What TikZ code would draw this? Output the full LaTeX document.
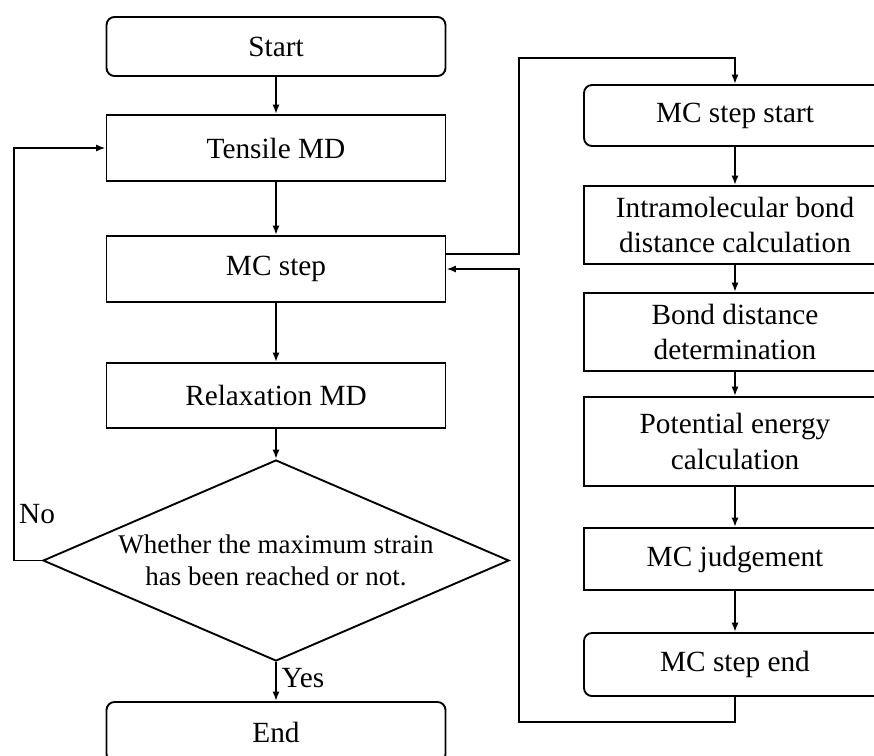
\documentclass[tikz,border=0pt]{standalone}
\usepackage{fontspec}
\setmainfont{Liberation Serif}
\usetikzlibrary{shapes.geometric,arrows.meta}
\begin{document}
\begin{tikzpicture}[x=0.03cm,y=-0.03cm]
	\tikzset{
		every node/.style={font=\fontsize{25}{30.6}\selectfont,align=center,inner sep=0pt},
		%
		box/.style={draw,line width=1.6pt,minimum width=339*0.03cm},
		% hop tron goc
		rbox/.style={box,rounded corners=0.24cm},
		% cot phai
		boxp/.style={draw,line width=1.6pt,minimum width=302*0.03cm},
		rboxp/.style={boxp,rounded corners=0.24cm},
		% hinh thoi
		dec/.style={draw,line width=1.6pt,diamond,aspect=2.32,font=\fontsize{23}{27}\selectfont,
			minimum width=466*0.03cm,minimum height=201*0.03cm},
		%
		mui/.style={line width=1.6pt,-{Latex[length=8pt,width=6pt]}},
	}
	%
	\clip (0,0) rectangle (874,755);
	%
	\node[rbox,minimum height=59*0.03cm] (start) at (276,46.5) {Start};
	\node[box,minimum height=66*0.03cm] (tensile) at (276,148) {Tensile MD};
	\node[box,minimum height=66*0.03cm] (mcstep) at (276,269) {MC step};
	\node[box,minimum height=65*0.03cm] (relax) at (276,395.5) {Relaxation MD};
	\node[dec] (dec) at (276,560.5) {Whether the maximum strain\\has been reached or not.};
	\node[rbox,minimum height=60*0.03cm] (end) at (276,732) {End};
	%
	\node[rboxp,minimum height=61*0.03cm] (mcstart) at (735,115.5) {MC step start};
	\node[boxp,minimum height=78*0.03cm] (intra) at (735,225) {Intramolecular bond\\distance calculation};
	\node[boxp,minimum height=78*0.03cm] (bond) at (735,332) {Bond distance\\determination};
	\node[boxp,minimum height=89*0.03cm] (pot) at (735,441.5) {Potential energy\\calculation};
	\node[boxp,minimum height=62*0.03cm] (judge) at (735,559) {MC judgement};
	\node[rboxp,minimum height=63*0.03cm] (mcend) at (735,664.5) {MC step end};
	%
	\coordinate (noc) at (14,560.5);
	\coordinate (ltop) at (519,58);
	\coordinate (lbot) at (519,722);
	%
	\draw[mui](start)--(tensile);
	\draw[mui](tensile)--(mcstep);
	\draw[mui](mcstep)--(relax);
	\draw[mui](relax)--(dec);
	\draw[mui](dec.south)--(end.north)node[pos=0.4,right=4pt]{Yes};
	\draw[mui](dec.west)--(noc)|-(tensile.west);
	\path (noc)++(5,-46)node[right]{No};
	%
	\draw[mui](mcstart)--(intra);
	\draw[mui](intra)--(bond);
	\draw[mui](bond)--(pot);
	\draw[mui](pot)--(judge);
	\draw[mui](judge)--(mcend);
	%
	\draw[mui]([yshift=0.45cm]mcstep.east)-|(ltop)-|(mcstart.north);
	\draw[mui](mcend.south)|-(lbot)|-(mcstep.east);
\end{tikzpicture}
\end{document}
